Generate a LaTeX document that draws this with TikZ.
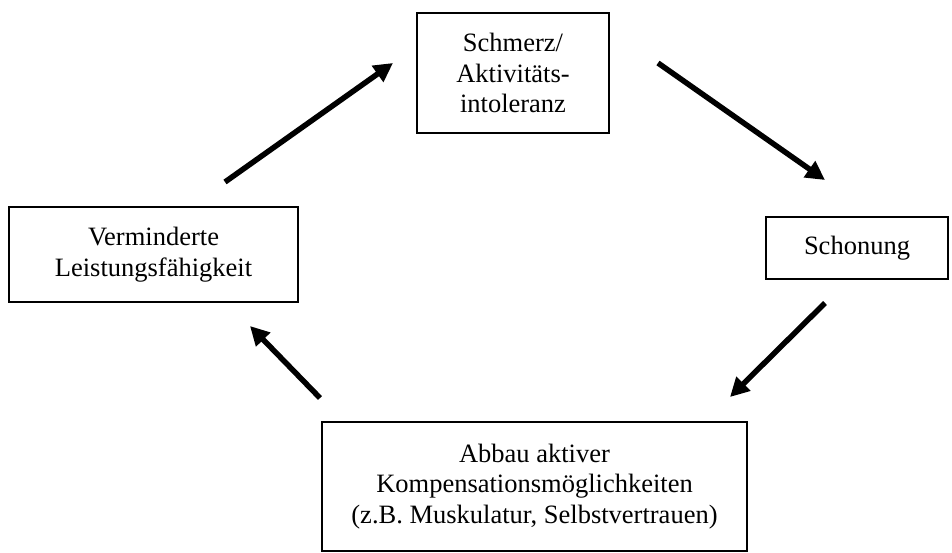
\documentclass[tikz,border=0pt]{standalone}
\usepackage{fontspec}
\setmainfont{Liberation Serif}
\usetikzlibrary{arrows.meta}
\begin{document}
\begin{tikzpicture}[x=1pt,y=-1pt,
  box/.style={draw=black,line width=1.5pt,inner sep=0pt,align=center,
    font=\fontsize{26.5}{30.5}\selectfont},
  cyclearrow/.style={line width=5.5pt,-{Triangle[length=19pt,width=19pt]}}]
\useasboundingbox (0,0) rectangle (952,552);
\node[box,minimum width=192pt,minimum height=120pt] (pain) at (513,73) {Schmerz/\\Aktivitäts-\\intoleranz};
\node[box,minimum width=182pt,minimum height=62pt] (rest) at (857,248) {Schonung};
\node[box,minimum width=289pt,minimum height=95pt] (perf) at (153.5,254.5) {Verminderte\\Leistungsfähigkeit};
\node[box,minimum width=425pt,minimum height=129pt] (loss) at (534.5,486.5) {Abbau aktiver\\Kompensationsmöglichkeiten\\(z.B. Muskulatur, Selbstvertrauen)};
\coordinate (a1s) at (225,182); \coordinate (a1e) at (393,63);
\coordinate (a2s) at (658,63);  \coordinate (a2e) at (825,180);
\coordinate (a3s) at (825,303); \coordinate (a3e) at (730,397);
\coordinate (a4s) at (320,398); \coordinate (a4e) at (250,326);
\draw[cyclearrow] (a1s) -- (a1e);
\draw[cyclearrow] (a2s) -- (a2e);
\draw[cyclearrow] (a3s) -- (a3e);
\draw[cyclearrow] (a4s) -- (a4e);
\end{tikzpicture}
\end{document}
